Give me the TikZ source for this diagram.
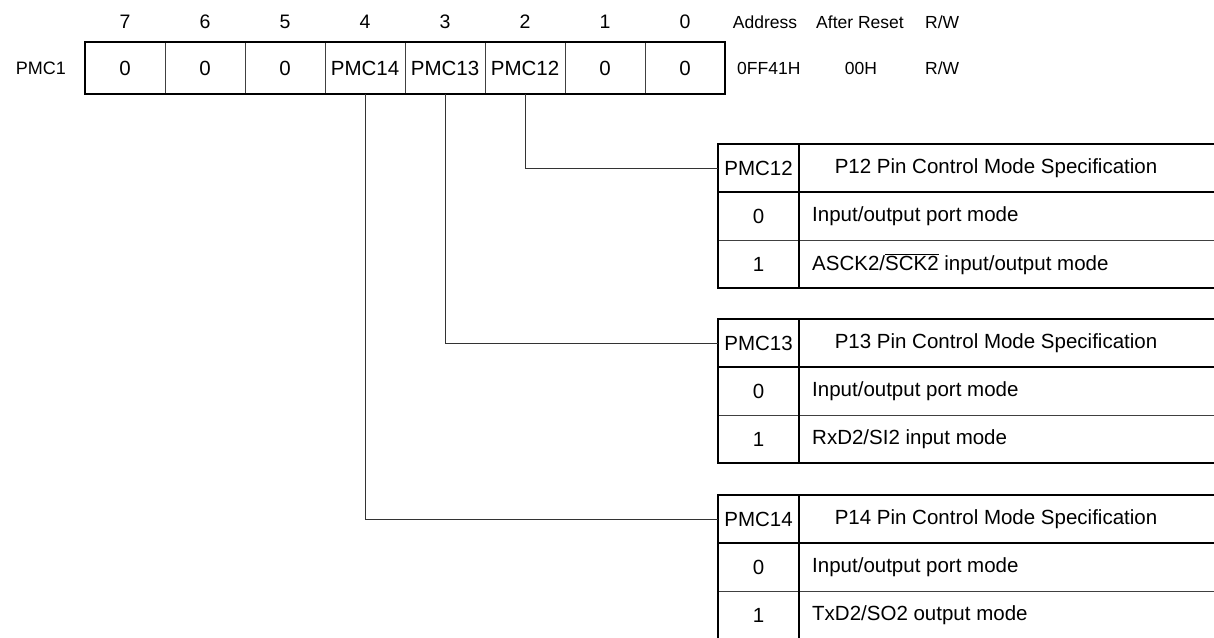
\documentclass[tikz,border=0pt]{standalone}
\usepackage{fontspec}
\setmainfont{Liberation Sans}
\begin{document}
\begin{tikzpicture}[x=1pt,y=-1pt,
  font=\fontsize{17.5}{20}\selectfont,
  frame/.style={line width=2.4pt,line cap=rect},
  rule/.style={line width=1pt,draw=black!75},
  conn/.style={line width=1pt,draw=black!80},
  big/.style={font=\fontsize{20.5}{23}\selectfont},
  cell/.style={big,minimum width=80pt,minimum height=52pt,inner sep=0pt,anchor=center},
  lbl/.style={inner sep=0pt,anchor=center},
  lft/.style={inner sep=0pt,anchor=west}]
\useasboundingbox (0,0) rectangle (1214,637);
\clip (0,0) rectangle (1214,637);

% bit numbers
\foreach \b [count=\i from 0] in {7,6,5,4,3,2,1,0}
  \node[lbl,font=\fontsize{19.5}{22}\selectfont] (n\b) at (125+80*\i,22) {\b};
\node[lbl] (haddr) at (765,22) {Address};
\node[lbl] (hrst) at (860,22) {After Reset};
\node[lft] (hrw) at (925,22) {R/W};

% register
\node[inner sep=0pt,anchor=east,font=\fontsize{18}{20}\selectfont] (reg) at (66,68) {PMC1};
\foreach \b/\t [count=\i from 0] in {7/0,6/0,5/0,4/PMC14,3/PMC13,2/PMC12,1/0,0/0}
  \node[cell] (c\b) at (125+80*\i,68) {\t};
\foreach \i in {1,...,7}
  \draw[rule] (85+80*\i,42) -- (85+80*\i,94);
\draw[frame] (85,42) rectangle (725,94);
\node[lft] (addr) at (737,68) {0FF41H};
\node[lbl] (rst) at (861,68) {00H};
\node[lft] (rw) at (925,68) {R/W};

% tables
\foreach \k/\T/\p/\d/\a in {
  2/144/PMC12/P12/{ASCK2/$\overline{\mbox{SCK2}}$ input/output mode},
  3/319/PMC13/P13/{RxD2/SI2 input mode},
  4/495/PMC14/P14/{TxD2/SO2 output mode}}{
  \node[big,minimum width=81pt,minimum height=48pt,inner sep=0pt] (t\k) at (758.5,\T+24) {\p};
  \node[big,lbl] (td\k) at (996,\T+24) {\d{} Pin Control Mode Specification};
  \node[big,lbl] (z\k) at (758.5,\T+72) {0};
  \node[big,lft] (zd\k) at (812,\T+72) {Input/output port mode};
  \node[big,lbl] (o\k) at (758.5,\T+120) {1};
  \node[big,lft] (od\k) at (812,\T+120) {\a};
  \draw[rule] (718,\T+96) -- (1240,\T+96);
  \draw[frame] (718,\T+48) -- (1240,\T+48);
  \draw[frame] (799,\T) -- (799,\T+144);
  \draw[frame] (1240,\T) -- (718,\T) -- (718,\T+144) -- (1240,\T+144);
}

% connectors
\draw[conn] (c2.south) |- (t2.west);
\draw[conn] (c3.south) |- (t3.west);
\draw[conn] (c4.south) |- (t4.west);
\end{tikzpicture}
\end{document}
